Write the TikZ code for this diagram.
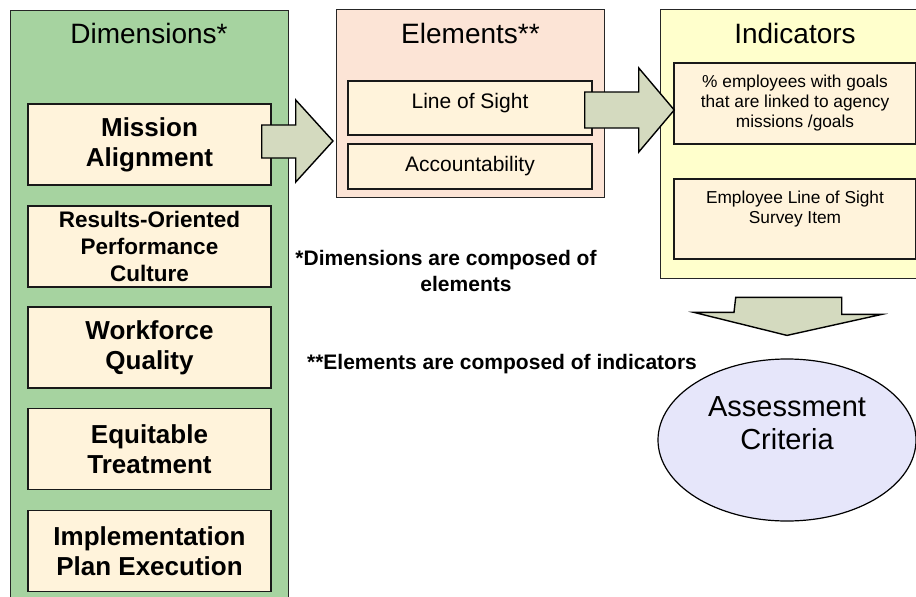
\documentclass[tikz,border=0pt]{standalone}
\usepackage{fontspec}
\setmainfont{Liberation Sans}
\usepackage{xcolor}
\usepackage{tikz}
\usetikzlibrary{
  arrows.meta,
  positioning,
  calc,
  shapes.geometric
}
\definecolor{dimgreen}  {HTML}{A6D3A0}
\definecolor{elempeach} {HTML}{FCE4D6}
\definecolor{indyellow} {HTML}{FFFFCC}
\definecolor{itemcream} {HTML}{FFF3DB}
\definecolor{arrowsage} {HTML}{D4DABF}
\definecolor{critlav}   {HTML}{E6E6FA}

\begin{document}
\begin{tikzpicture}[x=1pt, y=-1pt,
  every node/.style={text=black},
  panel/.style={draw=black!85, line width=1.4pt, anchor=north west, inner sep=0pt},
  title/.style={anchor=base, font=\fontsize{28}{32}\selectfont},
  item/.style={draw=black!90, line width=1.5pt, fill=itemcream, align=center,
               inner sep=0pt, minimum width=243pt},
  dimitem/.style={item, minimum height=81pt, font=\bfseries\fontsize{26}{30}\selectfont},
  elitem/.style={item, minimum width=244pt, font=\fontsize{21}{25}\selectfont},
  inditem/.style={item, minimum width=242pt, font=\fontsize{17.3}{20}\selectfont},
  note/.style={align=center, font=\bfseries\fontsize{21}{25.5}\selectfont},
  blockarr/.style={draw=black, line width=1.4pt, fill=arrowsage, line join=miter},
]
\clip (0,0) rectangle (916,597);

\node[panel, fill=dimgreen, minimum width=278pt, minimum height=600pt] (dims) at (10,10) {};
\node[panel, fill=elempeach, minimum width=268pt, minimum height=188pt] (elements) at (336,9) {};
\node[panel, fill=indyellow, minimum width=270pt, minimum height=269pt] (indicators) at (660,9) {};

\node[title] (dimtitle) at (149,43)   {Dimensions*};
\node[title] (eltitle)  at (470.5,43) {Elements**};
\node[title] (indtitle) at (795,43)   {Indicators};

\node[dimitem] (mission)  at (149.5,144.5) {Mission\\Alignment};
\node[dimitem, font=\bfseries\fontsize{22.5}{27}\selectfont]
               (results)  at (149.5,246.5) {Results-Oriented\\Performance\\Culture};
\node[dimitem] (workforce) at (149.5,347.5) {Workforce\\Quality};
\node[dimitem] (equitable) at (149.5,449)   {Equitable\\Treatment};
\node[dimitem] (implement) at (149.5,551)   {Implementation\\Plan Execution};

\node[elitem, minimum height=54pt, text height=15pt, text depth=15pt] (los) at (470,108) {Line of Sight};
\node[elitem, minimum height=45pt] (account) at (470,166.5) {Accountability};

\node[inditem, minimum height=81pt] (ind1) at (795,103.5)
  {\% employees with goals\\that are linked to agency\\missions /goals};
\node[inditem, minimum height=80pt] (ind2) at (795,219)
  {Employee Line of Sight\\Survey Item\\[4pt]\mbox{}};

\node[ellipse, draw=black, line width=1.2pt, fill=critlav, inner sep=0pt,
      minimum width=258pt, minimum height=162pt, align=center,
      font=\fontsize{29}{33}\selectfont] (crit) at (787,440) {Assessment\\Criteria\\\mbox{}};

\node[note] (note1) at (446,271) {*Dimensions are composed of\\\hspace*{40pt}elements};
\node[note, anchor=base] (note2) at (502,369) {**Elements are composed of indicators};

\draw[blockarr] ($(mission.east)+(-10,-19.5)$) -- ++(34,0) -- ++(0,-25)
  -- ($(elements.west |- mission.east)+(-3,-3.5)$) -- ($(mission.east)+(24,37.5)$)
  -- ++(0,-24) -- ++(-34,0) -- cycle;
\draw[blockarr] ($(los.east)+(-8,-16)$) -- ++(54,0) -- ++(0,-24)
  -- ($(ind1.west |- los.east)+(1,2)$) -- ($(los.east)+(46,44)$)
  -- ++(0,-24) -- ++(-54,0) -- cycle;
\draw[blockarr] ($(indicators.south)+(-60,18)$) -- ++(106,0) -- ++(0,17) -- ++(40,0)
  -- ($(crit.north)+(0,-23)$) -- ($(crit.north)+(-93,-46)$) -- ++(40,0) -- cycle;
\end{tikzpicture}
\end{document}
